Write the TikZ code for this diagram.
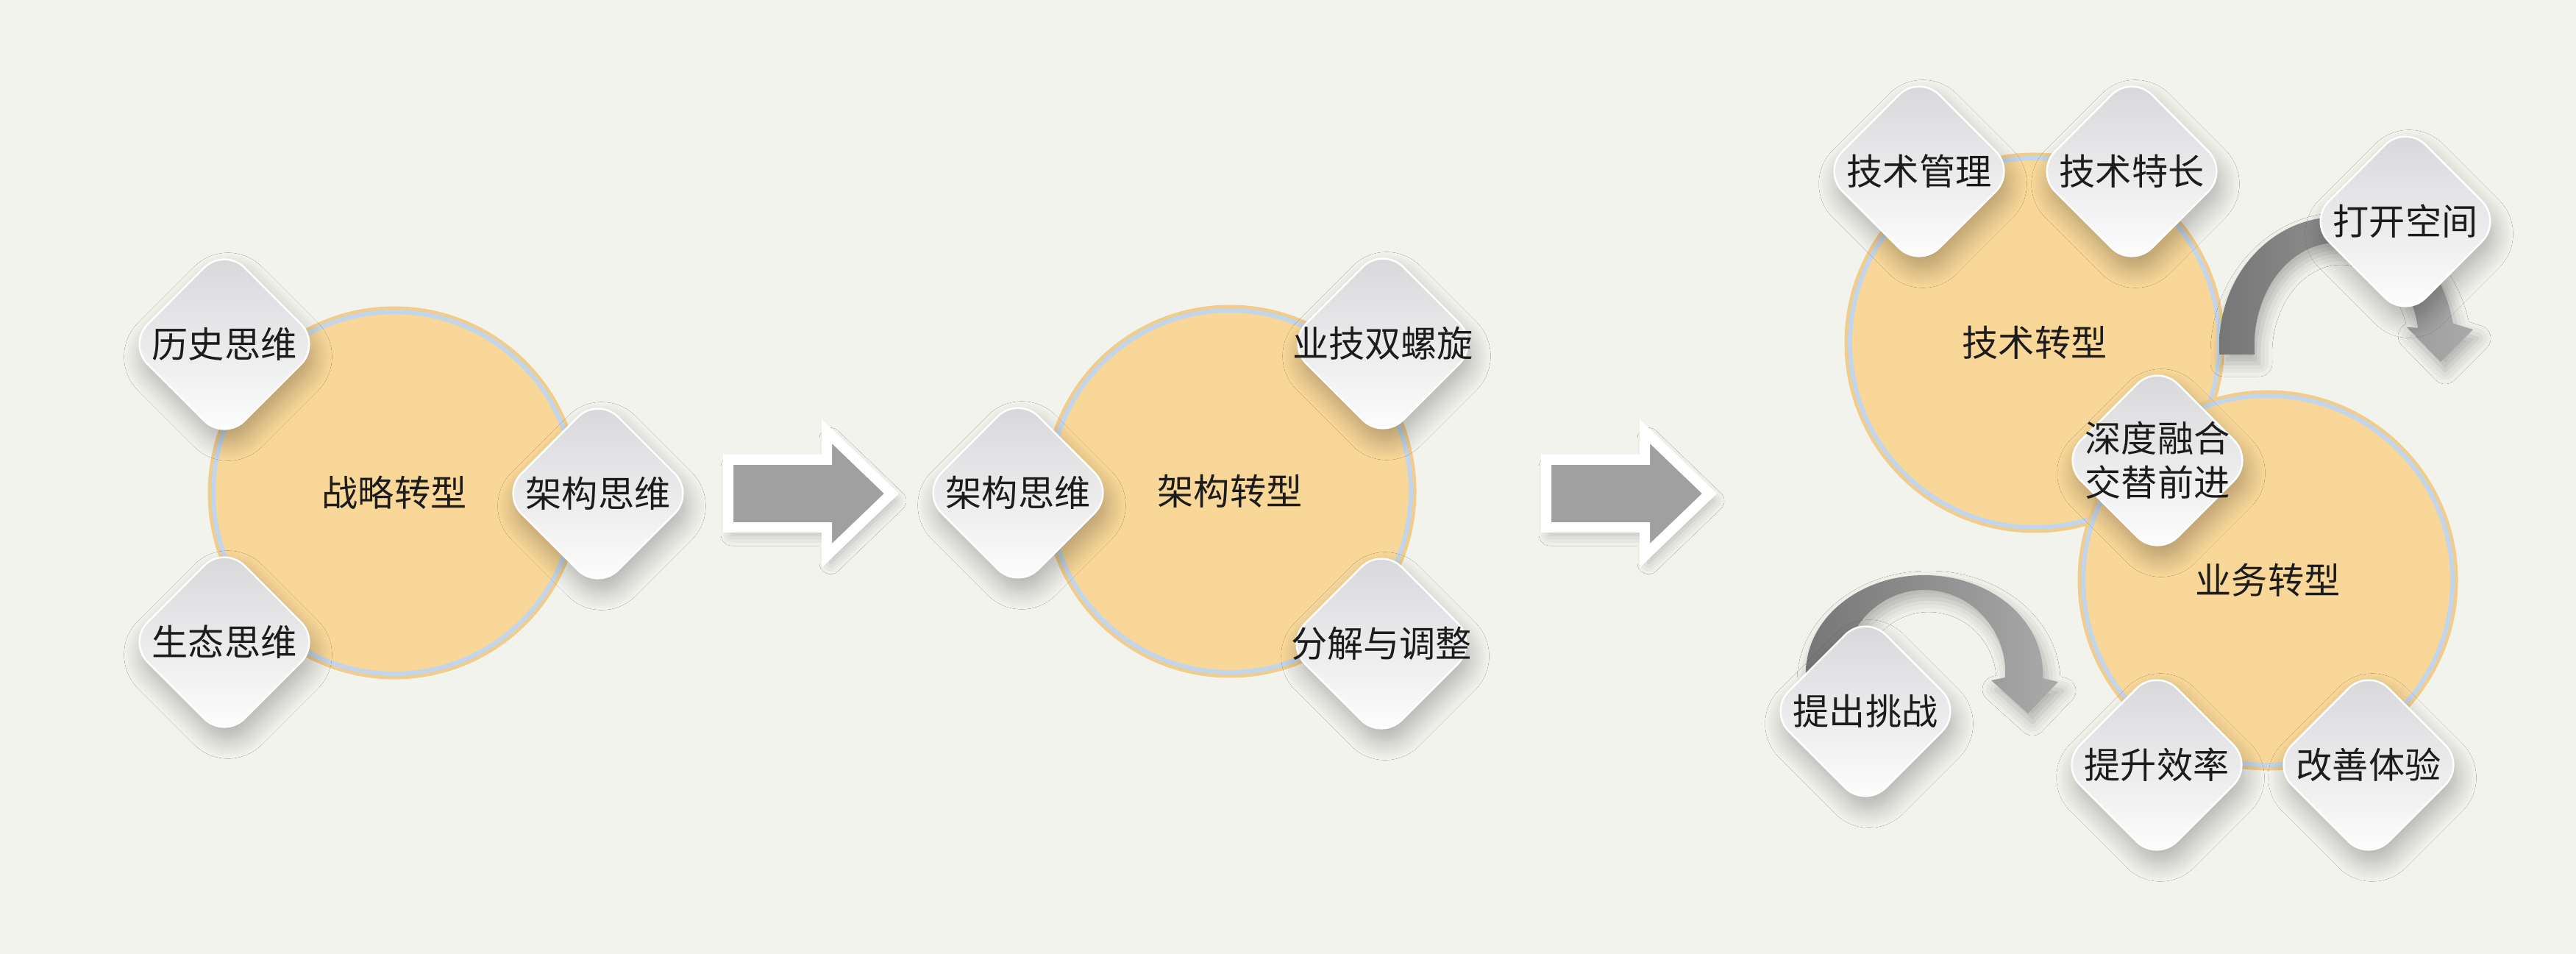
\documentclass[tikz,border=0pt]{standalone}
\usepackage{fontspec}
\usepackage{tikz}
\usetikzlibrary{shapes.geometric,shadows.blur}
\newfontfamily\cjk{Noto Sans CJK SC}
\definecolor{paper}{RGB}{243,243,238}
\definecolor{sand}{RGB}{248,215,152}
\definecolor{sandedge}{RGB}{242,204,138}
\definecolor{rim}{RGB}{193,214,236}
\definecolor{gemtop}{RGB}{214,214,217}
\definecolor{ink}{RGB}{28,28,28}
\definecolor{arrowgray}{RGB}{160,160,160}
\definecolor{bandleft}{RGB}{118,118,118}
\definecolor{bandright}{RGB}{170,170,170}

\begin{document}
\begin{tikzpicture}[
  hub/.style={circle, inner sep=0pt, minimum size=4.92cm, fill=sand, draw=rim, line width=0.06cm,
    preaction={draw=sandedge, line width=0.15cm}, text=ink, font=\cjk\fontsize{14pt}{17pt}\selectfont},
  gem/.style={diamond, inner sep=0pt, minimum width=2.64cm, minimum height=2.64cm, rounded corners=0.39cm,
    draw=white, line width=0.7pt, top color=gemtop, bottom color=white,
    blur shadow={shadow xshift=0.05cm, shadow yshift=-0.17cm, shadow blur radius=0.26cm, shadow opacity=28, shadow blur steps=12}},
  tag/.style={text=ink, font=\cjk\fontsize{14pt}{17pt}\selectfont, align=center},
  bigarrow/.style={fill=arrowgray, draw=white, line width=0.14cm, line join=miter,
    blur shadow={shadow xshift=0.05cm, shadow yshift=-0.1cm, shadow blur radius=0.15cm, shadow opacity=25}},
  band/.style={left color=bandleft, right color=bandright,
    blur shadow={shadow xshift=0.06cm, shadow yshift=-0.12cm, shadow blur radius=0.18cm, shadow opacity=28}}
]
\fill[paper] (0,0) rectangle (35.02,-12.97);
\useasboundingbox (0,0) rectangle (35.02,-12.97);
\node[hub] (StageN0) at (5.36,-6.70) {战略转型};
\node[hub] (StageN1) at (16.72,-6.68) {架构转型};
\node[hub, minimum size=5.02cm] (StageN2) at (27.66,-4.66) {技术转型};
\node[hub, minimum size=5.02cm] (StageN3) at (30.83,-7.89) {业务转型};
\draw[bigarrow] (9.90,-6.25) -- (11.24,-6.25) -- (11.24,-5.865) -- (12.12,-6.71) -- (11.24,-7.555) -- (11.24,-7.17) -- (9.90,-7.17) -- cycle;
\draw[bigarrow, xshift=11.12cm] (9.90,-6.25) -- (11.24,-6.25) -- (11.24,-5.865) -- (12.12,-6.71) -- (11.24,-7.555) -- (11.24,-7.17) -- (9.90,-7.17) -- cycle;
\path[band] (30.17,-4.82) -- (30.17,-4.70) arc[start angle=180, end angle=10, x radius=1.60, y radius=1.75]
  -- (33.62,-4.48) -- (33.18,-4.92) -- (32.72,-4.45) -- (32.87,-4.457)
  arc[start angle=10, end angle=180, x radius=1.12, y radius=1.40] -- (30.65,-4.82) -- cycle;
\path[band] (24.55,-9.40) -- (24.55,-9.15) arc[start angle=180, end angle=-3, x radius=1.61, y radius=1.33]
  -- (27.98,-9.27) -- (27.57,-9.70) -- (27.07,-9.25) -- (27.26,-9.21)
  arc[start angle=-3, end angle=180, x radius=1.10, y radius=1.13] -- (25.06,-9.40) -- cycle;
\node[gem, label={[tag]center:历史思维}] (StageN0T0) at (3.05,-4.68) {};
\node[gem, label={[tag]center:架构思维}] (StageN0T1) at (8.13,-6.71) {};
\node[gem, label={[tag]center:生态思维}] (StageN0T2) at (3.05,-8.73) {};
\node[gem, label={[tag]center:架构思维}] (StageN1T0) at (13.84,-6.70) {};
\node[gem, label={[tag]center:业技双螺旋}] (StageN1T1) at (18.80,-4.67) {};
\node[gem, label={[tag]center:分解与调整}] (StageN1T2) at (18.78,-8.75) {};
\node[gem, label={[tag]center:技术管理}] (StageN2T0) at (26.09,-2.33) {};
\node[gem, label={[tag]center:技术特长}] (StageN2T1) at (28.98,-2.33) {};
\node[gem, label={[tag]center:打开空间}] (StageN2T2) at (32.70,-3.01) {};
\node[gem, label={[tag]center:{深度融合\\交替前进}}] (StageN2T3) at (29.33,-6.26) {};
\node[gem, label={[tag]center:提出挑战}] (StageN3T0) at (25.36,-9.67) {};
\node[gem, label={[tag]center:提升效率}] (StageN3T1) at (29.32,-10.40) {};
\node[gem, label={[tag]center:改善体验}] (StageN3T2) at (32.20,-10.40) {};
\end{tikzpicture}
\end{document}
